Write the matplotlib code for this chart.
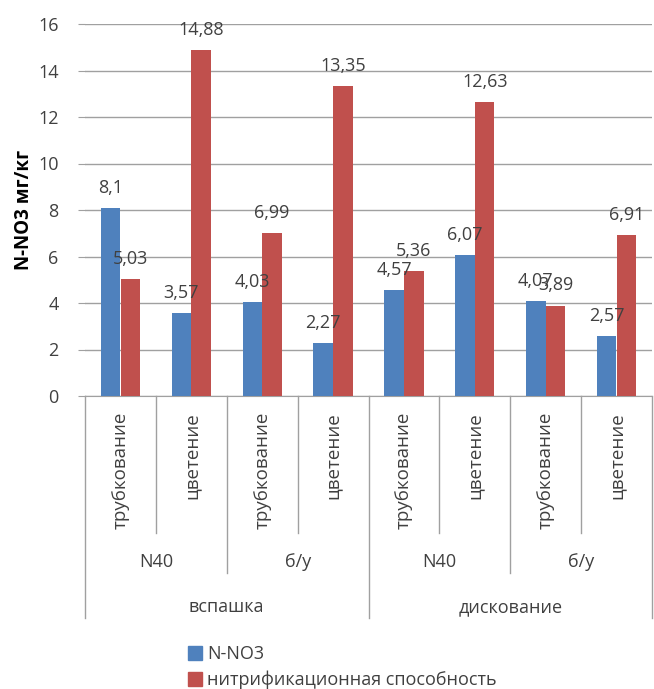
import matplotlib
matplotlib.use("Agg")
import matplotlib.pyplot as plt
from matplotlib.patches import Patch

plt.rcParams['font.family'] = ['Open Sans', 'DejaVu Sans']

# --- data ---
stages = ["трубкование", "цветение", "трубкование", "цветение",
          "трубкование", "цветение", "трубкование", "цветение"]
fertilizer = ["N40", "б/у", "N40", "б/у"]
tillage = ["вспашка", "дискование"]
series_names = ["N-NO3", "нитрификационная способность"]
n_no3 = [8.1, 3.57, 4.03, 2.27, 4.57, 6.07, 4.07, 2.57]
nitrif = [5.03, 14.88, 6.99, 13.35, 5.36, 12.63, 3.89, 6.91]
yticks = [0, 2, 4, 6, 8, 10, 12, 14, 16]

blue = "#4F81BD"
red = "#C0504D"
grid_c = "#A0A0A0"
txt_c = "#404040"

W, H = 654, 689
fig = plt.figure(figsize=(W / 100, H / 100), dpi=100)
ax = fig.add_axes([85 / W, 1 - 396 / H, (652 - 85) / W, (396 - 24) / H])

x = list(range(len(stages)))
bw = 0.275
off = 0.14
b1 = ax.bar([i - off for i in x], n_no3, width=bw, color=blue, zorder=3)
b2 = ax.bar([i + off for i in x], nitrif, width=bw, color=red, zorder=3)

def fmt(v):
    s = f"{v:.2f}".rstrip("0").rstrip(".")
    return s.replace(".", ",")

for bars, vals in ((b1, n_no3), (b2, nitrif)):
    for r, v in zip(bars, vals):
        ax.annotate(fmt(v), (r.get_x() + r.get_width() / 2, v),
                    xytext=(0, 8), textcoords="offset points",
                    ha="center", va="bottom", fontsize=13, color=txt_c, zorder=5)

ax.set_xlim(-0.5, len(stages) - 0.5)
ax.set_ylim(0, 16)
ax.set_yticks(yticks)
ax.set_yticklabels([str(t) for t in yticks], fontsize=13, color=txt_c)
ax.yaxis.grid(True, color=grid_c, linewidth=1, zorder=0)
ax.set_axisbelow(True)
ax.tick_params(axis="y", length=5, color=grid_c, pad=14)
ax.tick_params(axis="x", length=0, labelbottom=False)
for s in ("top", "right", "left"):
    ax.spines[s].set_visible(False)
ax.spines["bottom"].set_color(grid_c)

ax.set_ylabel("N-NO3 мг/кг", fontsize=13.5, fontweight="bold", color="black", labelpad=3)

# multi-level category axis
tr = ax.get_xaxis_transform()
def sep(xpos, y_end):
    ax.plot([xpos, xpos], [0, y_end], transform=tr, color=grid_c,
            linewidth=1, clip_on=False)

y_lvl1, y_lvl2, y_lvl3 = -0.368, -0.476, -0.597
for k in range(len(stages) + 1):
    b = k - 0.5
    if k % 4 == 0:
        sep(b, y_lvl3)
    elif k % 2 == 0:
        sep(b, y_lvl2)
    else:
        sep(b, y_lvl1)

for i, s in enumerate(stages):
    ax.text(i, -0.043, s, transform=tr, rotation=90, ha="center", va="top",
            fontsize=13.5, color=txt_c)
for j, f in enumerate(fertilizer):
    ax.text(2 * j + 0.5, -0.446, f, transform=tr, ha="center", va="center",
            fontsize=13, color=txt_c)
for j, t in enumerate(tillage):
    ax.text(4 * j + 1.5, -0.567, t, transform=tr, ha="center", va="center",
            fontsize=13, color=txt_c)

handles = [Patch(color=blue), Patch(color=red)]
fig.legend(handles, series_names, loc="upper left",
           bbox_to_anchor=(188 / W, 1 - 645 / H), frameon=False,
           fontsize=13, handlelength=0.8, handleheight=0.8, handletextpad=0.25,
           labelspacing=0.42, borderpad=0, borderaxespad=0, labelcolor=txt_c)

fig.savefig("out.png", dpi=100)
